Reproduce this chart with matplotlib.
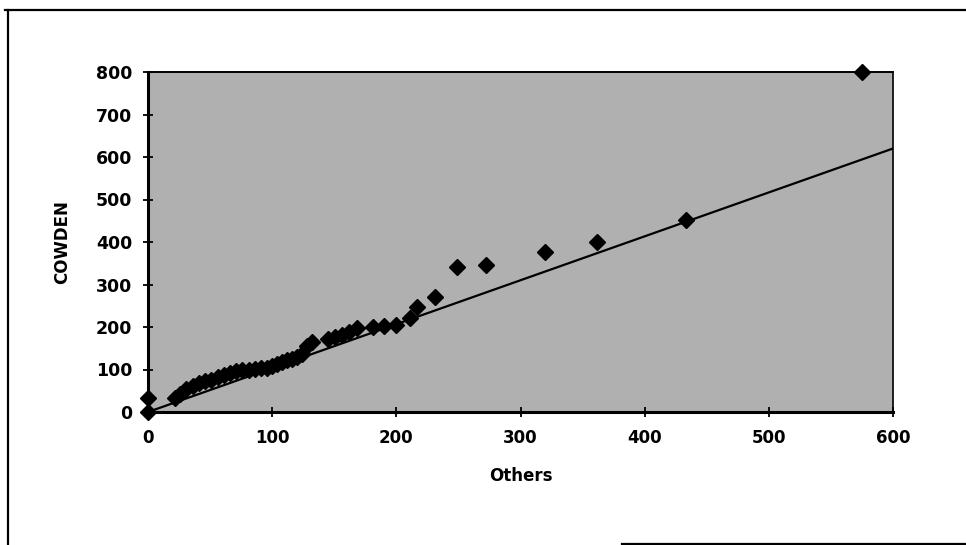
import matplotlib
matplotlib.use("Agg")
import matplotlib.pyplot as plt
from matplotlib.lines import Line2D

# Data
others = [0, 0, 22, 26, 31, 36, 41, 46, 51, 56, 61, 66, 71, 76, 81, 86, 91, 96,
          100, 104, 108, 112, 116, 120, 124, 128, 132, 145, 151, 156, 162, 168,
          181, 190, 200, 211, 217, 231, 249, 272, 320, 362, 433, 575]
cowden = [0, 33, 33, 42, 55, 62, 68, 72, 76, 83, 88, 92, 96, 99, 100, 101, 103, 104,
          108, 112, 118, 122, 125, 130, 136, 156, 165, 172, 176, 181, 189, 198,
          200, 202, 205, 222, 248, 271, 341, 345, 376, 400, 452, 800]
line_x = [0, 600]
line_y = [0, 620]
xticks = [0, 100, 200, 300, 400, 500, 600]
yticks = [0, 100, 200, 300, 400, 500, 600, 700, 800]

W, H = 966, 545
fig = plt.figure(figsize=(W / 100, H / 100), dpi=100)
fig.patch.set_facecolor("white")

# outer frame pieces
fig.add_artist(Line2D([5 / W, 1], [1 - 10 / H, 1 - 10 / H], color="black", lw=1.6, transform=fig.transFigure))
fig.add_artist(Line2D([7.5 / W, 7.5 / W], [0, 1 - 10 / H], color="black", lw=1.6, transform=fig.transFigure))
fig.add_artist(Line2D([622 / W, 1], [1.5 / H, 1.5 / H], color="black", lw=1.6, transform=fig.transFigure))

ax = fig.add_axes([148 / W, 1 - 412 / H, (893 - 148) / W, (412 - 72) / H])
ax.set_facecolor("#b0b0b0")
ax.set_xlim(0, 600)
ax.set_ylim(0, 800)

ax.plot(line_x, line_y, color="black", lw=1.6, zorder=2)
ax.plot(others, cowden, linestyle="none", marker="D", markersize=8.5,
        color="black", clip_on=False, zorder=3)

ax.set_xticks(xticks)
ax.set_yticks(yticks)
ax.set_xticklabels([str(v) for v in xticks], fontsize=12, fontweight="bold", family="DejaVu Sans")
ax.set_yticklabels([str(v) for v in yticks], fontsize=12.5, fontweight="bold", family="DejaVu Sans")
ax.tick_params(direction="inout", length=7, width=1.3, colors="black", pad=8)
ax.tick_params(axis="x", pad=9)

for s in ["left", "bottom"]:
    ax.spines[s].set_linewidth(2.2)
ax.spines["top"].set_linewidth(1.4)
ax.spines["right"].set_linewidth(1.2)
ax.spines["right"].set_linestyle((0, (1, 1)))

ax.set_xlabel("Others", fontsize=12, fontweight="bold", family="DejaVu Sans", labelpad=14)
ax.set_ylabel("COWDEN", fontsize=12, fontweight="bold", family="DejaVu Sans", labelpad=18)

fig.savefig("out.png", dpi=100)
